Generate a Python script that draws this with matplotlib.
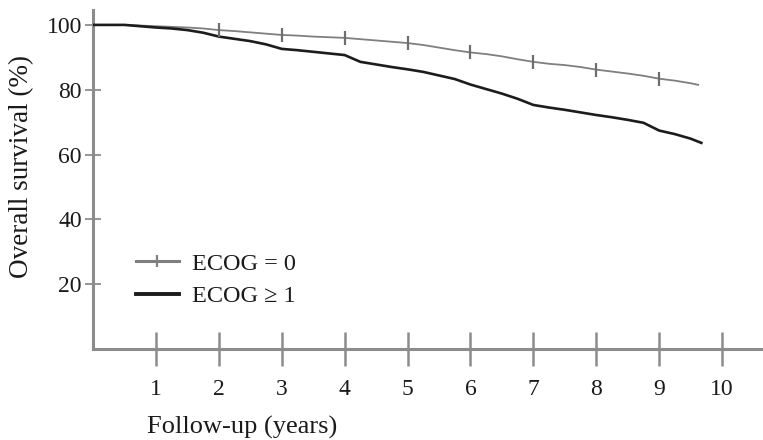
import numpy as np
import matplotlib
matplotlib.use("Agg")
import matplotlib.pyplot as plt
from matplotlib.lines import Line2D

# ---- data ----
t_ecog0 = [0, 0.5, 0.75, 1.0, 1.25, 1.5, 1.75, 2.0, 2.25, 2.5, 2.75, 3.0, 3.25, 3.5,
           3.75, 4.0, 4.25, 4.5, 4.75, 5.0, 5.25, 5.5, 5.75, 6.0, 6.25, 6.5, 6.75,
           7.0, 7.25, 7.5, 7.75, 8.0, 8.25, 8.5, 8.75, 9.0, 9.25, 9.5, 9.62]
s_ecog0 = [100, 100, 99.8, 99.6, 99.4, 99.2, 98.9, 98.4, 98.1, 97.7, 97.3, 96.9, 96.7,
           96.4, 96.2, 96.0, 95.6, 95.2, 94.8, 94.4, 93.8, 93.0, 92.2, 91.5, 91.0,
           90.3, 89.4, 88.6, 88.0, 87.6, 87.0, 86.2, 85.6, 85.0, 84.3, 83.4, 82.8,
           82.0, 81.5]

t_ecog1 = [0, 0.5, 0.75, 1.0, 1.25, 1.5, 1.75, 2.0, 2.25, 2.5, 2.75, 3.0, 3.25, 3.5,
           3.75, 4.0, 4.25, 4.5, 4.75, 5.0, 5.25, 5.5, 5.75, 6.0, 6.25, 6.5, 6.75,
           7.0, 7.25, 7.5, 7.75, 8.0, 8.25, 8.5, 8.75, 9.0, 9.25, 9.5, 9.67]
s_ecog1 = [100, 100, 99.6, 99.2, 98.9, 98.4, 97.6, 96.4, 95.7, 95.0, 94.0, 92.6, 92.2,
           91.7, 91.2, 90.7, 88.6, 87.8, 87.0, 86.3, 85.5, 84.4, 83.3, 81.6, 80.2,
           78.8, 77.2, 75.3, 74.5, 73.8, 73.0, 72.2, 71.5, 70.7, 69.8, 67.4, 66.3,
           64.9, 63.6]

censor_times = [2, 3, 4, 5, 6, 7, 8, 9]
x_ticks = [1, 2, 3, 4, 5, 6, 7, 8, 9, 10]
y_ticks = [20, 40, 60, 80, 100]
labels = ["ECOG = 0", "ECOG \u2265 1"]

GRAY = "#7f7f7f"
MARK = "#6e6e6e"
BLACK = "#1c1c1c"
AX = "#8c8c8c"
SERIF = ["Liberation Serif", "DejaVu Serif"]
TXT = "#1a1a1a"

fig = plt.figure(figsize=(7.63, 4.40), dpi=100)
ax = fig.add_axes([93 / 763, 1 - 349 / 440, 1 - 93 / 763, (349 - 10) / 440])

ax.plot(t_ecog0, s_ecog0, color=GRAY, lw=1.3, zorder=3)
ax.plot(t_ecog1, s_ecog1, color=BLACK, lw=1.9, zorder=3)

# censor marks on ECOG = 0 curve
ax.plot(censor_times, np.interp(censor_times, t_ecog0, s_ecog0), ls="none",
        marker="|", ms=10, mew=1.6, color=MARK, zorder=4)

ax.set_xlim(0, 10.65)
ax.set_ylim(0, 104.6)

for side in ["top", "right"]:
    ax.spines[side].set_visible(False)
for side in ["left", "bottom"]:
    ax.spines[side].set_color(AX)
    ax.spines[side].set_linewidth(2.2)

ax.set_xticks(x_ticks)
ax.set_yticks(y_ticks)
ax.tick_params(axis="x", direction="inout", length=25, width=1.8, color=AX,
               pad=9, labelsize=17)
ax.tick_params(axis="y", direction="inout", length=12, width=1.3, color=AX,
               pad=2, labelsize=17)
for lab in ax.get_xticklabels() + ax.get_yticklabels():
    lab.set_fontfamily(SERIF)
    lab.set_color(TXT)

fig.text(147 / 763, 1 - 427 / 440, "Follow-up (years)", ha="left", va="center",
         fontsize=19, family=SERIF, color=TXT)
fig.text(22 / 763, 1 - 167 / 440, "Overall survival (%)", ha="center", va="center",
         rotation=90, fontsize=19.5, family=SERIF, color=TXT)

handles = [Line2D([], [], color=GRAY, lw=2.2, marker="|", ms=9, mew=1.6),
           Line2D([], [], color=BLACK, lw=2.8)]
leg = ax.legend(handles, labels, loc="center left", frameon=False,
                prop={"family": SERIF, "size": 17.5}, handlelength=1.75,
                handletextpad=0.55, labelspacing=0.42, borderpad=0, borderaxespad=0)
leg.set_bbox_to_anchor((136 / 763, 1 - 280 / 440), transform=fig.transFigure)
for txt in leg.get_texts():
    txt.set_color(TXT)

fig.savefig("out.png", dpi=100)
